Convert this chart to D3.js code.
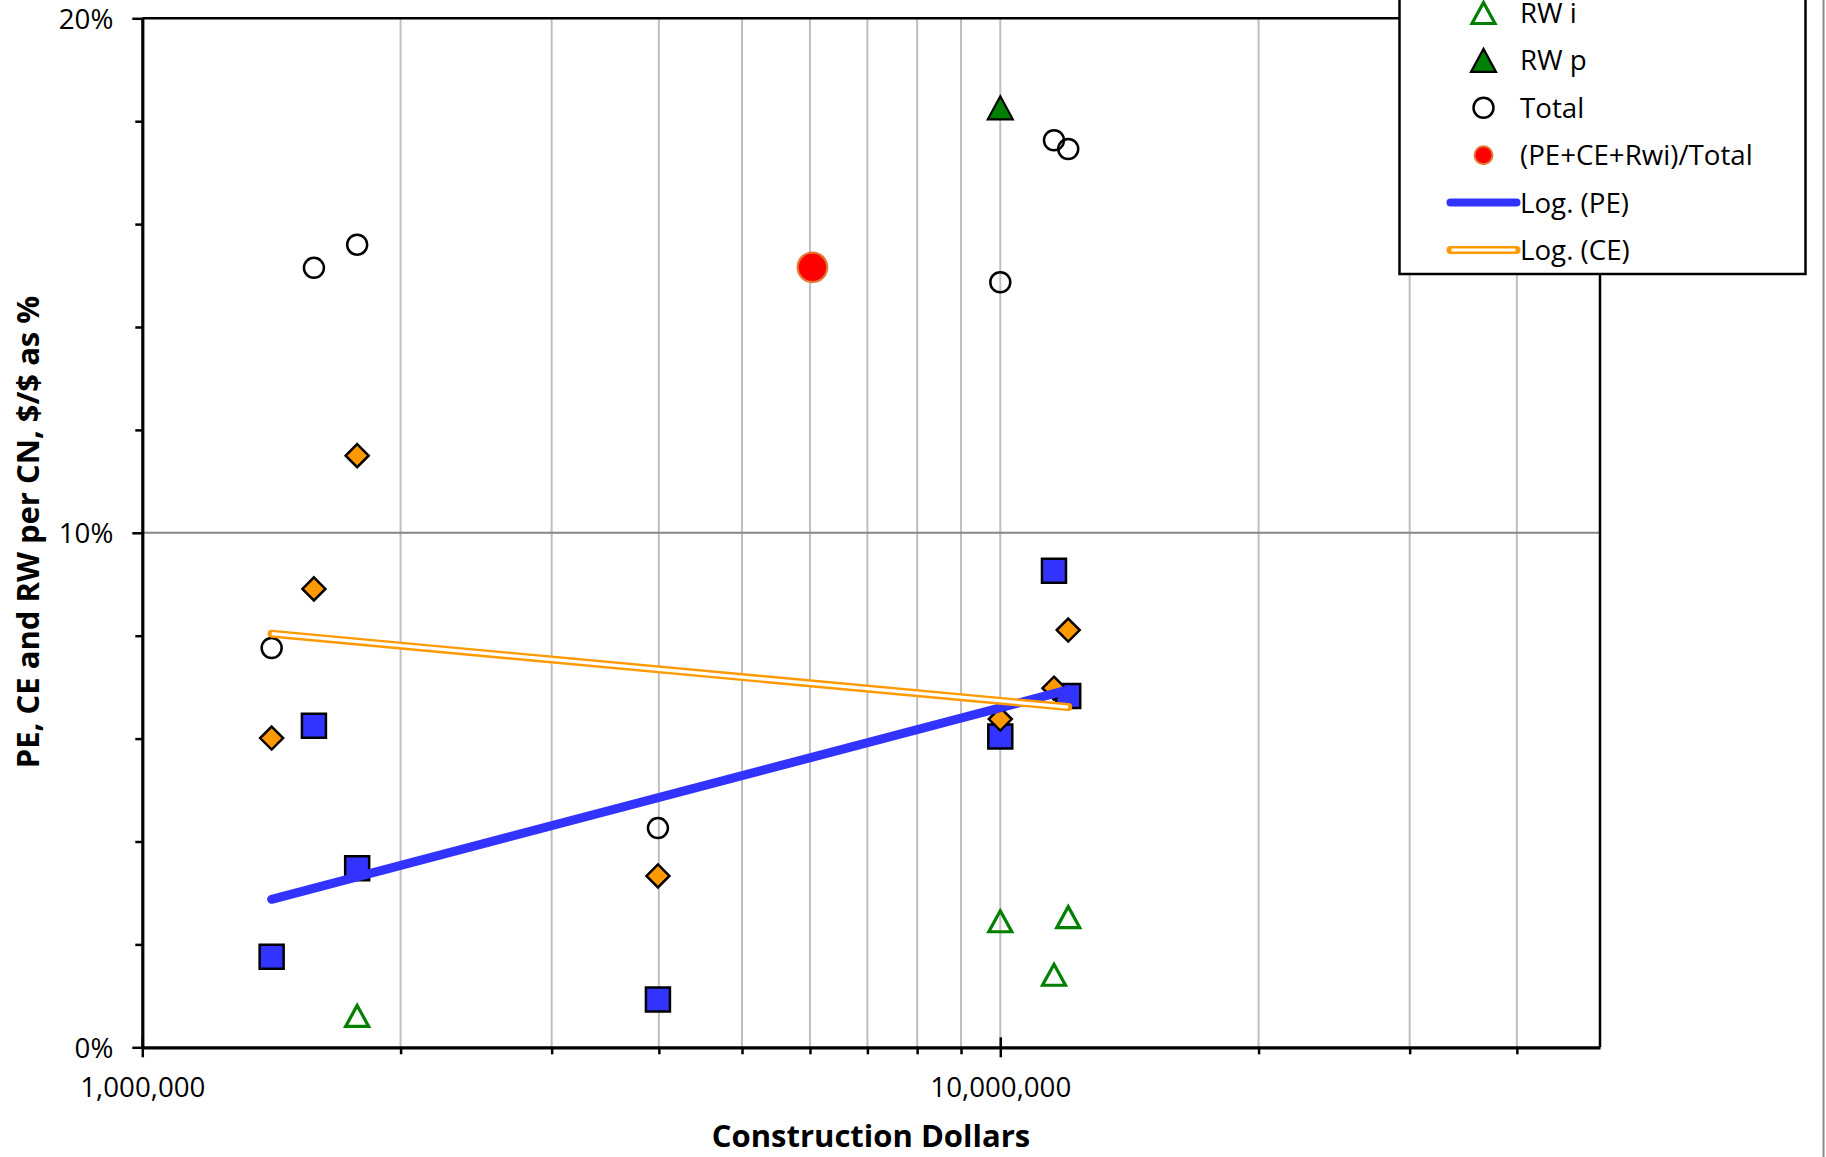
<!DOCTYPE html>
<html>
<head>
<meta charset="utf-8">
<script src="https://cdn.jsdelivr.net/npm/d3@7"></script>
<style>
body { margin: 0; background: #fff; }
svg text { font-family: 'Open Sans', 'Noto Sans', sans-serif; fill: #000; }
</style>
</head>
<body>
<script>
// construction dollars of each project, and the cost shares in %
var dollars = [1415000, 1585000, 1780000, 3990000, 10000000, 11550000, 12000000]
var pe = [1.76, 6.25, 3.48, 0.93, 6.04, 9.26, 6.83]
var ce = [6.01, 8.91, 11.5, 3.33, 6.38, 6.98, 8.11]
var rwi = [null, null, 0.61, null, 2.45, 1.41, 2.53]
var rwp = [null, null, null, null, 18.26, null, null]
var total = [7.76, 15.15, 15.6, 4.26, 14.87, 17.63, 17.46]
var ratioDollars = [6040000]
var ratioPct = [15.16]

var xMajor = [1e6, 1e7]
var xMinor = [2e6, 3e6, 4e6, 5e6, 6e6, 7e6, 8e6, 9e6, 2e7, 3e7, 4e7]
var yMajor = [0, 10, 20]
var yMinor = [2, 4, 6, 8, 12, 14, 16, 18]
var legendLabels = ['RW i', 'RW p', 'Total', '(PE+CE+Rwi)/Total', 'Log. (PE)', 'Log. (CE)']

var W = 1826, H = 1157
var plot = {left: 142.3, right: 1600, top: 18.3, bottom: 1047.3}

var BLUE = '#3333FF', ORANGE = '#FF9900', GREEN = '#008000'
var LABEL_SIZE = '27.7px', TITLE_SIZE = '31px'

var x = d3.scaleLog().domain([1e6, 5e7]).range([plot.left, plot.right])
var y = d3.scaleLinear().domain([0, 20]).range([plot.bottom, plot.top])

// least squares fit y = a + b ln(x), like Excel's logarithmic trendline
function logTrend (xs, ys) {
  var pts = xs.map((d, i) => [Math.log(d), ys[i]]).filter(p => p[1] != null)
  var mx = d3.mean(pts, p => p[0]), my = d3.mean(pts, p => p[1])
  var sxy = d3.sum(pts, p => (p[0] - mx) * (p[1] - my))
  var sxx = d3.sum(pts, p => (p[0] - mx) * (p[0] - mx))
  var b = sxy / sxx, a = my - b * mx
  return d3.extent(xs).map(v => [v, a + b * Math.log(v)])
}

function square (s) { return 'M' + (-s / 2) + ',' + (-s / 2) + 'h' + s + 'v' + s + 'h' + (-s) + 'Z' }
function diamond (r) { return 'M0,' + (-r) + 'L' + r + ',0L0,' + r + 'L' + (-r) + ',0Z' }
function triangle (w, h) { return 'M0,' + (-h / 2) + 'L' + (w / 2) + ',' + (h / 2) + 'L' + (-w / 2) + ',' + (h / 2) + 'Z' }

var markers = {
  pe: g => g.append('path').attr('d', square(24)).attr('fill', BLUE).attr('stroke', '#000').attr('stroke-width', 2.5),
  ce: g => g.append('path').attr('d', diamond(11.5)).attr('fill', ORANGE).attr('stroke', '#000').attr('stroke-width', 2.5),
  rwi: g => g.append('path').attr('d', triangle(23, 21)).attr('fill', 'none').attr('stroke', GREEN).attr('stroke-width', 3.2),
  rwp: g => g.append('path').attr('d', triangle(25, 23)).attr('fill', GREEN).attr('stroke', '#000').attr('stroke-width', 2.2),
  total: g => g.append('circle').attr('r', 10).attr('fill', 'none').attr('stroke', '#000').attr('stroke-width', 2.5),
  ratio: g => g.append('circle').attr('r', 14.8).attr('fill', '#FF0000').attr('stroke', '#E07A35').attr('stroke-width', 2.2)
}

var svg = d3.select('body').append('svg')
  .attr('width', W)
  .attr('height', H)

// gridlines
svg.append('g').selectAll('line').data(xMinor.concat([1e7]))
  .join('line')
  .attr('x1', d => x(d)).attr('x2', d => x(d))
  .attr('y1', plot.top).attr('y2', plot.bottom)
  .attr('stroke', '#BFBFBF').attr('stroke-width', 2)

svg.append('line')
  .attr('x1', plot.left).attr('x2', plot.right)
  .attr('y1', y(10)).attr('y2', y(10))
  .attr('stroke', '#868686').attr('stroke-width', 2)

// plot area border (top, right)
svg.append('path')
  .attr('d', 'M' + plot.left + ',' + plot.top + 'H' + plot.right + 'V' + plot.bottom)
  .attr('fill', 'none').attr('stroke', '#000').attr('stroke-width', 2.5)

function series (xs, ys, draw) {
  var pts = xs.map((d, i) => [d, ys[i]]).filter(p => p[1] != null)
  svg.append('g').selectAll('g').data(pts)
    .join('g')
    .attr('transform', d => 'translate(' + x(d[0]) + ',' + y(d[1]) + ')')
    .each(function () { draw(d3.select(this)) })
}

series(dollars, pe, markers.pe)
series(dollars, ce, markers.ce)
series(dollars, rwi, markers.rwi)
series(dollars, rwp, markers.rwp)
series(dollars, total, markers.total)
series(ratioDollars, ratioPct, markers.ratio)

// trendlines
var line = d3.line().x(d => x(d[0])).y(d => y(d[1]))
var peTrend = logTrend(dollars, pe)
var ceTrend = logTrend(dollars, ce)

svg.append('path').attr('d', line(peTrend))
  .attr('fill', 'none').attr('stroke', BLUE).attr('stroke-width', 9).attr('stroke-linecap', 'round')
svg.append('path').attr('d', line(ceTrend))
  .attr('fill', 'none').attr('stroke', ORANGE).attr('stroke-width', 8).attr('stroke-linecap', 'round')
svg.append('path').attr('d', line(ceTrend))
  .attr('fill', 'none').attr('stroke', '#fff').attr('stroke-width', 3.2)

// axes
function styleAxis (g) {
  g.attr('font-family', null).attr('font-size', null)
  g.selectAll('line').attr('stroke', '#000').attr('stroke-width', 2.5)
  g.selectAll('text').style('font-size', LABEL_SIZE)
}

var yAxis = d3.axisLeft(y).tickValues(yMajor).tickSize(10).tickSizeOuter(0)
  .tickPadding(19).tickFormat(d => d + '%')
var yMinorAxis = d3.axisLeft(y).tickValues(yMinor).tickSize(7).tickSizeOuter(0).tickFormat('')

svg.append('g').attr('transform', 'translate(' + plot.left + ',0)').call(yMinorAxis).call(styleAxis)
  .select('.domain').remove()
var gy = svg.append('g').attr('transform', 'translate(' + plot.left + ',0)').call(yAxis).call(styleAxis)
gy.select('.domain').attr('stroke', '#000').attr('stroke-width', 3.2)
gy.selectAll('text').attr('dy', '0.36em')

var xAxis = d3.axisBottom(x).tickValues(xMajor).tickSize(10).tickSizeOuter(0)
  .tickPadding(20).tickFormat(d3.format(','))
var xMinorAxis = d3.axisBottom(x).tickValues(xMinor).tickSize(7).tickSizeOuter(0).tickFormat('')

svg.append('g').attr('transform', 'translate(0,' + plot.bottom + ')').call(xMinorAxis).call(styleAxis)
  .select('.domain').remove()
var gx = svg.append('g').attr('transform', 'translate(0,' + plot.bottom + ')').call(xAxis).call(styleAxis)
gx.select('.domain').attr('stroke', '#000').attr('stroke-width', 3.2)
gx.selectAll('.tick line').attr('y1', -10)

svg.append('text')
  .attr('x', 871).attr('y', 1147)
  .attr('text-anchor', 'middle')
  .style('font-size', TITLE_SIZE).style('font-weight', 'bold')
  .text('Construction Dollars')

svg.append('text')
  .attr('transform', 'translate(38.5,532) rotate(-90)')
  .attr('text-anchor', 'middle')
  .style('font-size', TITLE_SIZE).style('font-weight', 'bold')
  .text('PE, CE and RW per CN, $/$ as %')

// legend (its upper entries are cropped off the top)
var legend = svg.append('g')
legend.append('rect')
  .attr('x', 1399.5).attr('y', -80).attr('width', 406).attr('height', 354)
  .attr('fill', '#fff').attr('stroke', '#000').attr('stroke-width', 2.5)

var legendDraw = [
  markers.rwi, markers.rwp, markers.total,
  g => g.append('circle').attr('r', 9).attr('fill', '#FF0000').attr('stroke', '#E07A35').attr('stroke-width', 2),
  g => g.append('line').attr('x1', -33).attr('x2', 33).attr('stroke', BLUE).attr('stroke-width', 8).attr('stroke-linecap', 'round'),
  g => {
    g.append('line').attr('x1', -33).attr('x2', 33).attr('stroke', ORANGE).attr('stroke-width', 8).attr('stroke-linecap', 'round')
    g.append('line').attr('x1', -32).attr('x2', 32).attr('stroke', '#fff').attr('stroke-width', 3.2)
  }
]
var item = legend.selectAll('g.item').data(legendLabels)
  .join('g').attr('class', 'item')
  .attr('transform', (d, i) => 'translate(0,' + (13 + i * 47.4) + ')')
item.append('g').attr('transform', 'translate(1483.5,0)')
  .each(function (d, i) { legendDraw[i](d3.select(this)) })
item.append('text')
  .attr('x', 1520).attr('dy', '0.36em')
  .style('font-size', LABEL_SIZE)
  .text(d => d)

// chart area edge
svg.append('line')
  .attr('x1', 1823.5).attr('x2', 1823.5).attr('y1', 0).attr('y2', H)
  .attr('stroke', '#8a8a8a').attr('stroke-width', 2)
</script>
</body>
</html>
